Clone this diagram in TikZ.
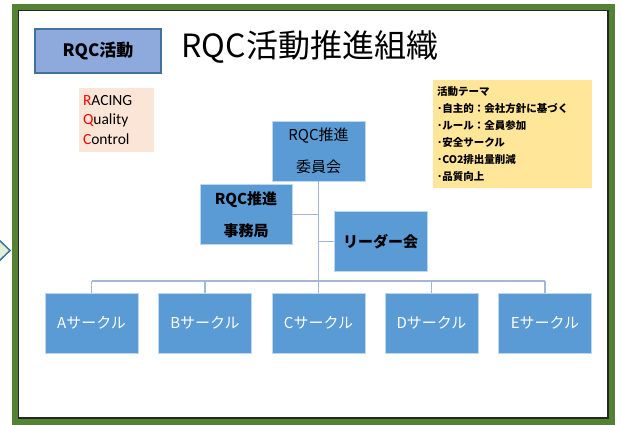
\documentclass[tikz,border=0pt]{standalone}
\usepackage{fontspec}
\setmainfont{Noto Sans CJK JP}
\newfontfamily\latinfont{Carlito}
\usetikzlibrary{positioning}
\definecolor{boxblue}{HTML}{5B9BD5}
\definecolor{boxedge}{HTML}{BDD7EE}
\definecolor{tagblue}{HTML}{8EA9DB}
\definecolor{tagedge}{HTML}{41719C}
\definecolor{peach}{HTML}{FBE5D6}
\definecolor{themeyellow}{HTML}{FFE699}
\definecolor{connblue}{HTML}{A2B8D6}
\definecolor{framegreen}{HTML}{548235}
\definecolor{chevfill}{HTML}{E2F0D9}
\begin{document}
\begin{tikzpicture}[x=1pt, y=-1pt,
    org/.style={draw=boxedge, fill=boxblue, line width=0.8pt, minimum width=93pt,
      minimum height=60pt, inner sep=2pt, align=center,
      font=\fontsize{15}{32}\selectfont},
    circle box/.style={org, text=white},
    conn/.style={draw=connblue, line width=1.2pt}]
  \useasboundingbox (0,0) rectangle (621,424);
  \fill[white] (0,0) rectangle (621,424);
  \draw[fill=chevfill, draw=tagedge, line width=1.5pt] (-6,235) -- (10,250.5) -- (-6,266) -- cycle;
  \draw[framegreen, line width=6pt] (15,7) rectangle (612,422);
  \draw[black!85, line width=1.5pt] (18.5,10.5) rectangle (608,418);

  \node[draw=tagedge, fill=tagblue, line width=1.5pt, minimum width=126pt, minimum height=44pt,
    font=\fontsize{17}{20}\selectfont\bfseries] (tag) at (98,51) {RQC活動};
  \node[font=\fontsize{32}{36}\selectfont, anchor=west] (title) at (178,47) {RQC活動推進組織};
  \node[fill=peach, minimum width=75pt, minimum height=64pt, text width=67pt, inner sep=4pt,
    align=left, font=\latinfont\fontsize{15.5}{19.5}\selectfont] (racing) at (116.5,120)
    {\textcolor{red}{R}ACING\\\textcolor{red}{Q}uality\\\textcolor{red}{C}ontrol};
  \node[fill=themeyellow, minimum width=159pt, minimum height=108pt, text width=151pt, inner sep=4pt,
    align=left, font=\fontsize{10.5}{17}\selectfont\bfseries] (theme) at (512.5,134)
    {活動テーマ\\･自主的：会社方針に基づく\\･ルール：全員参加\\･安全サークル\\･CO2排出量削減\\･品質向上};

  \node[org] (comm) at (318.5,151) {RQC推進\\委員会};
  \node[org, font=\fontsize{15}{32}\selectfont\bfseries, minimum width=92pt] (bureau) at (246,214.5) {RQC推進\\事務局};
  \node[org, font=\fontsize{15}{32}\selectfont\bfseries] (leader) at (380.5,241.5) {リーダー会};

  \node[circle box] (A) at (91.5,323) {Aサークル};
  \node[circle box] (B) at (205,323) {Bサークル};
  \node[circle box] (C) at (318.5,323) {Cサークル};
  \node[circle box] (D) at (431.5,323) {Dサークル};
  \node[circle box] (E) at (545,323) {Eサークル};

  \coordinate (bus) at (0,281);
  \draw[conn] (comm.south) -- (comm.south |- C.north);
  \draw[conn] (bureau.east) -- (bureau.east -| comm.south);
  \draw[conn] (leader.west) -- (leader.west -| comm.south);
  \draw[conn] (A.north |- bus) -- (E.north |- bus);
  \foreach \c in {A,B,D,E}
    \draw[conn] (\c.north) -- (\c.north |- bus);
\end{tikzpicture}
\end{document}
